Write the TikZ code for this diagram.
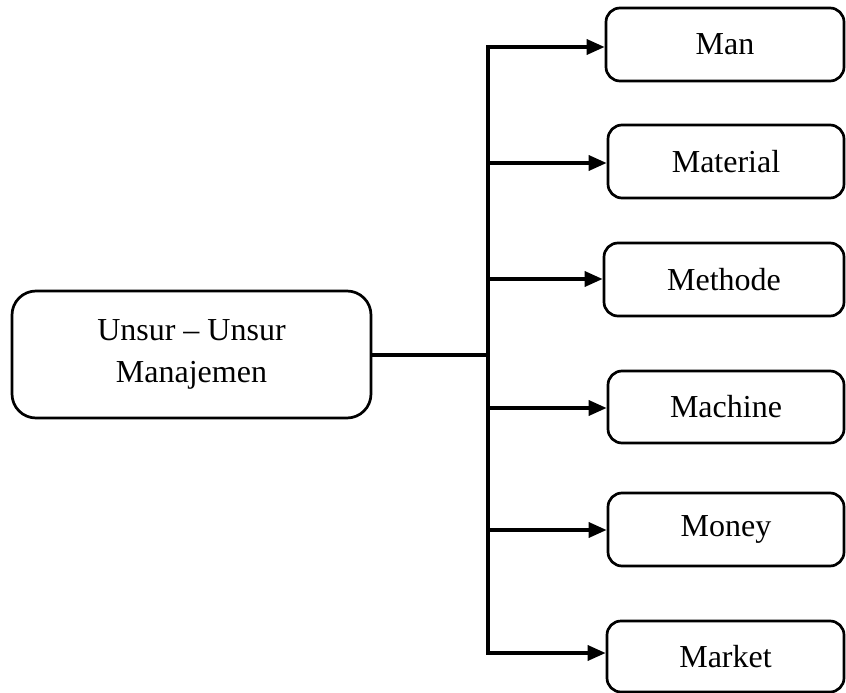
\documentclass[tikz,border=0pt]{standalone}
\usepackage{fontspec}
\setmainfont{Liberation Serif}
\usetikzlibrary{arrows.meta}
\begin{document}
\begin{tikzpicture}[x=1pt,y=-1pt,
  box/.style={draw, line width=2.7pt, rounded corners=14pt, inner sep=0pt, align=center,
    font=\fontsize{32}{42}\selectfont},
  conn/.style={line width=3.5pt},
  arr/.style={line width=3.5pt, -{Triangle[length=18pt,width=15pt]}}]
\useasboundingbox (0,0) rectangle (846,693);
\node[box, rounded corners=24pt, minimum width=359pt, minimum height=127pt] (main) at (191.5,354.5) {Unsur -- Unsur\\Manajemen};
\node[box, minimum width=238pt, minimum height=73pt] (man) at (725,44.5) {Man};
\node[box, minimum width=236pt, minimum height=73pt] (material) at (726,161.5) {Material};
\node[box, minimum width=240pt, minimum height=73pt] (methode) at (724,279.5) {Methode};
\node[box, minimum width=236pt, minimum height=72pt] (machine) at (726,407) {Machine};
\node[box, minimum width=236pt, minimum height=73pt] (money) at (726,529.5) {Money};
\node[box, minimum width=237pt, minimum height=71pt] (market) at (725.5,656.5) {Market};
\coordinate (j) at (488,355);
\coordinate (t1) at (488,47);
\coordinate (t2) at (488,163);
\coordinate (t3) at (488,279);
\coordinate (t4) at (488,408);
\coordinate (t5) at (488,530);
\coordinate (t6) at (488,653);
\draw[conn] (main.east |- j) -- (j);
\draw[conn, line cap=rect] (t1) -- (t6);
\draw[arr] (t1) -- (t1 -| man.west);
\draw[arr] (t2) -- (t2 -| material.west);
\draw[arr] (t3) -- (t3 -| methode.west);
\draw[arr] (t4) -- (t4 -| machine.west);
\draw[arr] (t5) -- (t5 -| money.west);
\draw[arr] (t6) -- (t6 -| market.west);
\end{tikzpicture}
\end{document}
